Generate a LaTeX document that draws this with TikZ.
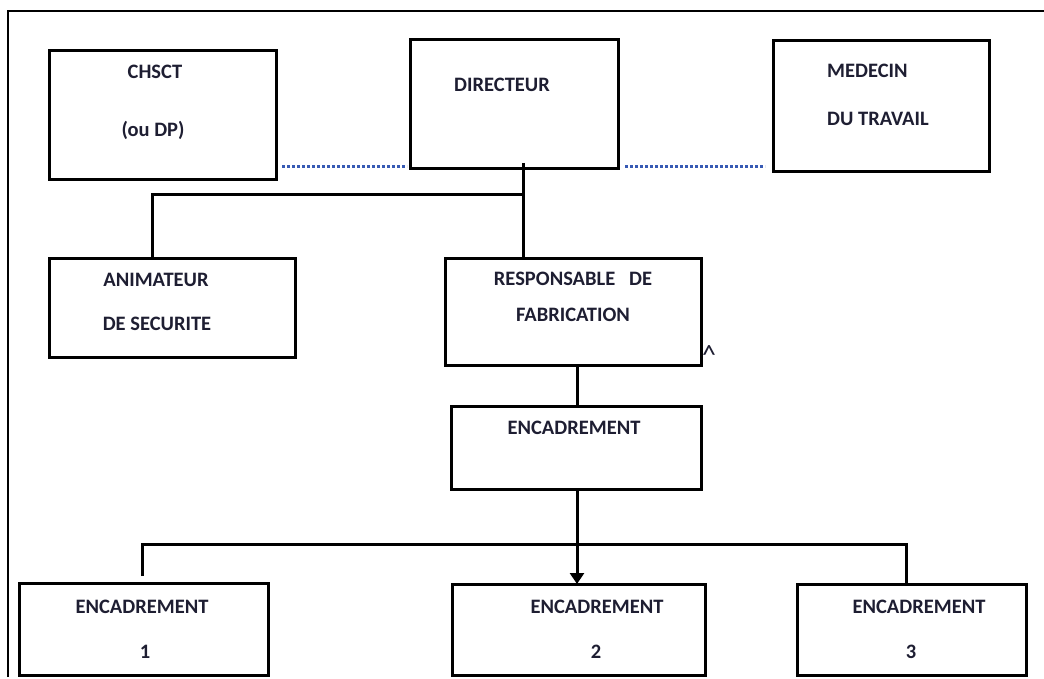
\documentclass[tikz,border=0pt]{standalone}
\usepackage{fontspec}
\setmainfont{Carlito}
\usetikzlibrary{arrows.meta,calc}
\definecolor{txt}{RGB}{30,30,50}
\definecolor{dotblue}{RGB}{55,90,180}
\begin{document}
\begin{tikzpicture}[x=1pt,y=-1pt,
  box/.style={draw=black,line width=3pt,rectangle,inner sep=0pt,outer sep=0pt},
  lbl/.style={anchor=base,text=txt,font=\fontsize{20.5}{25}\selectfont\bfseries,inner sep=0pt},
  lblw/.style={lbl,anchor=base west},
  conn/.style={line width=3pt,draw=black},
  frame/.style={line width=1.5pt,draw=black},
  dotline/.style={line width=3pt,draw=dotblue,dash pattern=on 3pt off 2pt}]
\useasboundingbox (0,0) rectangle (1044,679);
\fill[white] (0,0) rectangle (1044,679);
% outer frame
\draw[frame] (8,677) -- (8,11) -- (1044,11);
% boxes
\node[box,minimum width=227pt,minimum height=129pt] (chsct) at (162.5,115.5) {};
\node[box,minimum width=208pt,minimum height=129pt] (dir) at (514,104.5) {};
\node[box,minimum width=216pt,minimum height=131pt] (med) at (881,106.5) {};
\node[box,minimum width=246pt,minimum height=99pt] (anim) at (172,307.5) {};
\node[box,minimum width=256pt,minimum height=107pt] (resp) at (573,311.5) {};
\node[box,minimum width=250pt,minimum height=83pt] (enc) at (576,447.5) {};
\node[box,minimum width=249pt,minimum height=92pt] (e1) at (143.5,629) {};
\node[box,minimum width=253pt,minimum height=91pt] (e2) at (578.5,629.5) {};
\node[box,minimum width=229pt,minimum height=91pt] (e3) at (911.5,629.5) {};
% texts
\node[lbl] (t1) at (155,79) {CHSCT};
\node[lbl] (t2) at (153,137) {(ou DP)};
\node[lbl] (t3) at (502,92) {DIRECTEUR};
\node[lblw] (t4) at (827,78) {MEDECIN};
\node[lblw] (t5) at (827,126) {DU TRAVAIL};
\node[lbl] (t6) at (156,286) {ANIMATEUR};
\node[lbl] (t7) at (157,330) {DE SECURITE};
\node[lbl] (t8) at (573,285) {RESPONSABLE\ \ \ DE};
\node[lbl] (t9) at (573,321) {FABRICATION};
\node[lbl,font=\fontsize{28}{30}\selectfont] (t10) at (709,364) {\textasciicircum};
\node[lbl] (t11) at (574,434) {ENCADREMENT};
\node[lbl] (t12) at (142,613) {ENCADREMENT};
\node[lbl] (t13) at (145,658) {1};
\node[lbl] (t14) at (597,613) {ENCADREMENT};
\node[lbl] (t15) at (596,658) {2};
\node[lbl] (t16) at (919,613) {ENCADREMENT};
\node[lbl] (t17) at (911,658) {3};
% dotted links
\coordinate (dl) at (0,167);
\draw[dotline] ($(chsct.east |- dl)+(6,0)$) -- ($(dir.west |- dl)+(-3,0)$);
\draw[dotline] ($(dir.east |- dl)+(7,0)$) -- ($(med.west |- dl)+(-8,0)$);
% connectors
\coordinate (jd) at (523,195);
\coordinate (ja) at (152,195);
\draw[conn] ($(dir.south -| jd)+(0,-6)$) -- (resp.north -| jd);
\draw[conn] (jd) -- (ja) -- (anim.north -| ja);
\coordinate (jr) at (577,0);
\draw[conn] (resp.south -| jr) -- (enc.north -| jr);
\coordinate (jb) at (577,544);
\draw[conn,-{Triangle[width=14pt,length=11pt]}] (enc.south -| jb) -- (e2.north -| jb);
\coordinate (jl) at (142,544);
\coordinate (jlend) at (142,576);
\coordinate (jrr) at (906,544);
\draw[conn] (jlend) -- (jl) -- (jrr) -- (e3.north -| jrr);
\end{tikzpicture}
\end{document}
